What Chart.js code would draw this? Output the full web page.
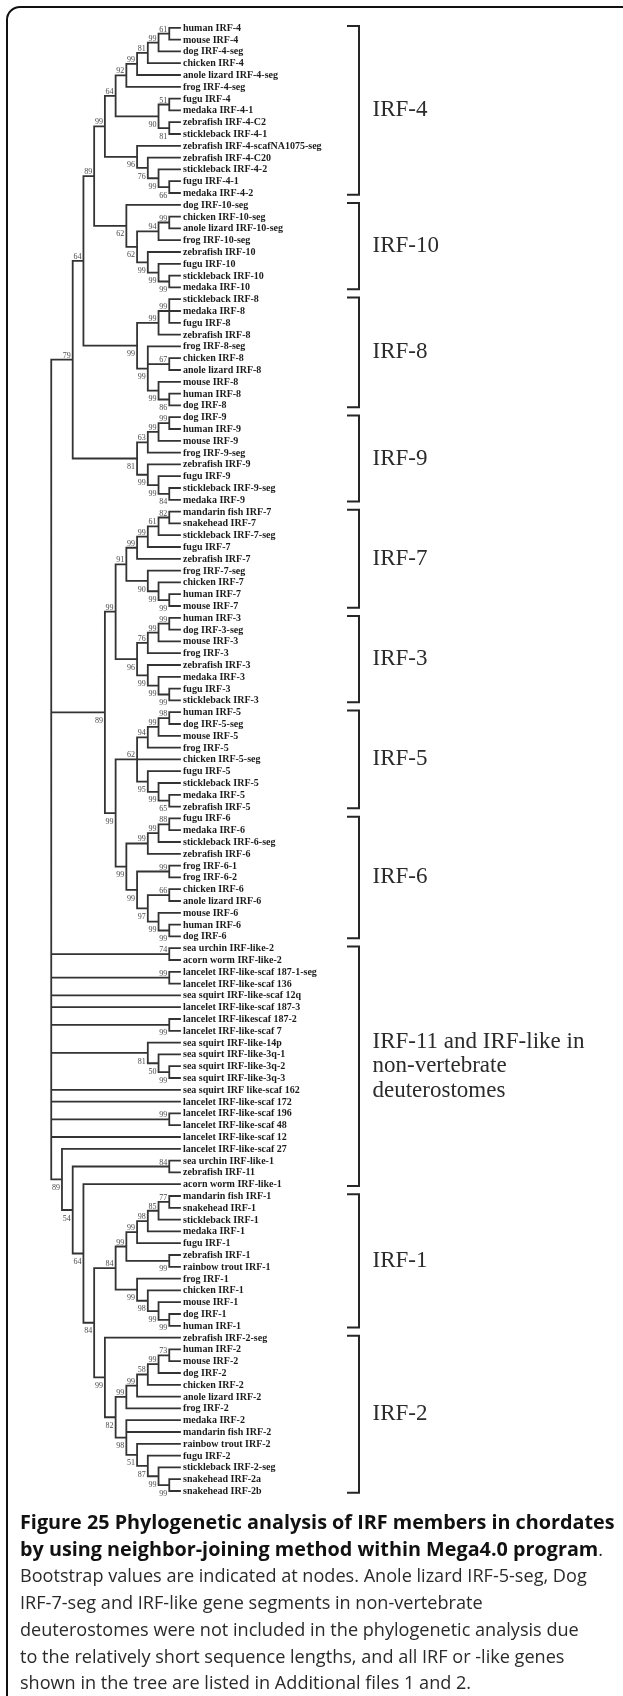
<!DOCTYPE html>
<html>
<head>
<meta charset="utf-8">
<script src="https://cdn.jsdelivr.net/npm/chart.js@4.4.1/dist/chart.umd.min.js"></script>
<style>
  html, body { margin: 0; padding: 0; background: #fff; }
  body { width: 623px; height: 1696px; position: relative; overflow: hidden; }
  #frame { position: absolute; left: 6px; top: 6px; width: 800px; height: 1900px;
           border: 2.5px solid #111; border-radius: 14px; box-sizing: border-box; }
  #tree { position: absolute; left: 0; top: 0; }
  #caption { position: absolute; left: 20px; top: 1509px; font-family: "Open Sans", sans-serif;
             font-size: 18.1px; line-height: 26.7px; color: #2a2a2a; white-space: nowrap; }
  #caption b { color: #111; font-size: 19.8px; }
</style>
</head>
<body>
<div id="frame"></div>
<canvas id="tree" width="623" height="1696"></canvas>
<div id="caption">
  <b>Figure 25 Phylogenetic analysis of IRF members in chordates<br>
  by using neighbor-joining method within Mega4.0 program</b>.<br>
  Bootstrap values are indicated at nodes. Anole lizard IRF-5-seg, Dog<br>
  IRF-7-seg and IRF-like gene segments in non-vertebrate<br>
  deuterostomes were not included in the phylogenetic analysis due<br>
  to the relatively short sequence lengths, and all IRF or -like genes<br>
  shown in the tree are listed in Additional files 1 and 2.
</div>
<script>
// tree topology in newick form, one string per family
// number after ")" = bootstrap value, a trailing "v" means it is printed under the branch
const irf4 = "(((((((human IRF-4,mouse IRF-4)61,dog IRF-4-seg)99,chicken IRF-4)81,anole lizard IRF-4-seg)99,frog IRF-4-seg)92,((fugu IRF-4,medaka IRF-4-1)51,(zebrafish IRF-4-C2,stickleback IRF-4-1)81v)90v)64,(zebrafish IRF-4-scafNA1075-seg,(zebrafish IRF-4-C20,(stickleback IRF-4-2,(fugu IRF-4-1,medaka IRF-4-2)66v)99v)76v)96v)99";
const irf10 = "(dog IRF-10-seg,(((chicken IRF-10-seg,anole lizard IRF-10-seg)99,frog IRF-10-seg)94,(zebrafish IRF-10,(fugu IRF-10,(stickleback IRF-10,medaka IRF-10)99v)99v)99v)62v)62v";
const irf8 = "(((stickleback IRF-8,medaka IRF-8,fugu IRF-8)99,zebrafish IRF-8)99,(frog IRF-8-seg,(chicken IRF-8,anole lizard IRF-8)67,(mouse IRF-8,(human IRF-8,dog IRF-8)86v)99v)99v)99v";
const irf9 = "((((dog IRF-9,human IRF-9)99,mouse IRF-9)99,frog IRF-9-seg)63,(zebrafish IRF-9,(fugu IRF-9,(stickleback IRF-9-seg,medaka IRF-9)84v)99v)99v)81v";
const irf7 = "(((((mandarin fish IRF-7,snakehead IRF-7)82,stickleback IRF-7-seg)61,fugu IRF-7)99,zebrafish IRF-7)99,(frog IRF-7-seg,(chicken IRF-7,(human IRF-7,mouse IRF-7)99v)99v)90v)91";
const irf3 = "((((human IRF-3,dog IRF-3-seg)99,mouse IRF-3)99,frog IRF-3)76,(zebrafish IRF-3,(medaka IRF-3,(fugu IRF-3,stickleback IRF-3)99v)99v)99v)96v";
const irf5 = "((((human IRF-5,dog IRF-5-seg)98,mouse IRF-5)99,frog IRF-5)94,chicken IRF-5-seg,(fugu IRF-5,(stickleback IRF-5,(medaka IRF-5,zebrafish IRF-5)65v)99v)95v)62";
const irf6 = "((((fugu IRF-6,medaka IRF-6)88,stickleback IRF-6-seg)99,zebrafish IRF-6)99,((frog IRF-6-1,frog IRF-6-2)99,((chicken IRF-6,anole lizard IRF-6)66,(mouse IRF-6,(human IRF-6,dog IRF-6)99v)99v)97v)99v)99v";
const irfLike = "(sea urchin IRF-like-2,acorn worm IRF-like-2)74,(lancelet IRF-like-scaf 187-1-seg,lancelet IRF-like-scaf 136)99,sea squirt IRF-like-scaf 12q,lancelet IRF-like-scaf 187-3,(lancelet IRF-likescaf 187-2,lancelet IRF-like-scaf 7)99v,(sea squirt IRF-like-14p,(sea squirt IRF-like-3q-1,(sea squirt IRF-like-3q-2,sea squirt IRF-like-3q-3)99v)50v)81v,sea squirt IRF like-scaf 162,lancelet IRF-like-scaf 172,(lancelet IRF-like-scaf 196,lancelet IRF-like-scaf 48)99,lancelet IRF-like-scaf 12";
const irf1 = "((((((mandarin fish IRF-1,snakehead IRF-1)77,stickleback IRF-1)85,medaka IRF-1)98,fugu IRF-1)99,(zebrafish IRF-1,rainbow trout IRF-1)99v)99,(frog IRF-1,(chicken IRF-1,(mouse IRF-1,(dog IRF-1,human IRF-1)99v)99v)98v)99v)84";
const irf2 = "(zebrafish IRF-2-seg,((((((human IRF-2,mouse IRF-2)73,dog IRF-2)99,chicken IRF-2)58,anole lizard IRF-2)99,frog IRF-2)99,(medaka IRF-2,mandarin fish IRF-2,(rainbow trout IRF-2,(fugu IRF-2,(stickleback IRF-2-seg,(snakehead IRF-2a,snakehead IRF-2b)99v)99v)87v)51v)98v)82v)99v";

const newick = `((((${irf4},${irf10})89,${irf8})64,${irf9})79,((${irf7},${irf3})99,(${irf5},${irf6})99v)89v,${irfLike},(lancelet IRF-like-scaf 27,((sea urchin IRF-like-1,zebrafish IRF-11)84,(acorn worm IRF-like-1,(${irf1},${irf2})84v)64v)54v)89v)`;

// brackets on the right: name lines and number of leaves covered, top to bottom
const cladeNames = [["IRF-4"], ["IRF-10"], ["IRF-8"], ["IRF-9"], ["IRF-7"], ["IRF-3"], ["IRF-5"], ["IRF-6"],
  ["IRF-11 and IRF-like in", "non-vertebrate", "deuterostomes"], ["IRF-1"], ["IRF-2"]];
const cladeSizes = [15, 8, 10, 8, 9, 8, 9, 11, 21, 12, 14];

// layout (pixels)
const W = 623, H = 1696;
const tipPx = 180, depthPx = 10.73;   // x of leaf tips, width of one node level
const topPx = 27.8, rowPx = 11.8;     // y of first leaf, leaf spacing
const bracketPx = 359, tickPx = 11;

// --- parse ---
let pos = 0;
function readNode() {
  if (newick[pos] === "(") {
    pos++;
    const kids = [readNode()];
    while (newick[pos] === ",") { pos++; kids.push(readNode()); }
    pos++; // ")"
    const n = { kids };
    const m = /^(\d+)(v?)/.exec(newick.slice(pos));
    if (m) { n.boot = m[1]; n.below = m[2] === "v"; pos += m[0].length; }
    return n;
  }
  let j = pos;
  while (j < newick.length && newick[j] !== "," && newick[j] !== ")") j++;
  const name = newick.slice(pos, j).trim();
  pos = j;
  return { name };
}
const root = readNode();

// leaves one row each, internal nodes at the middle of first/last child,
// x = number of levels above the deepest tip (MEGA topology view)
const leaves = [], inner = [];
function place(n) {
  if (!n.kids) { n.y = leaves.length; n.h = 0; leaves.push(n); return; }
  n.kids.forEach(place);
  n.h = Math.max(...n.kids.map(k => k.h)) + 1;
  n.y = (n.kids[0].y + n.kids[n.kids.length - 1].y) / 2;
  inner.push(n);
}
place(root);

const gap = { x: null, y: null };
const branchPts = [];
function walk(n, parent) {
  if (parent) branchPts.push({ x: -parent.h, y: n.y }, { x: -n.h, y: n.y }, gap);
  if (n.kids) {
    branchPts.push({ x: -n.h, y: n.kids[0].y }, { x: -n.h, y: n.kids[n.kids.length - 1].y }, gap);
    n.kids.forEach(k => walk(k, n));
  }
}
walk(root, null);

const bx = (bracketPx - tipPx) / depthPx, bt = (bracketPx - tickPx - tipPx) / depthPx;
const bracketPts = [];
const clades = [];
let start = 0;
cladeSizes.forEach((s, i) => {
  const y0 = start - 0.15, y1 = start + s - 1 + 0.15;
  bracketPts.push({ x: bt, y: y0 }, { x: bx, y: y0 }, { x: bx, y: y1 }, { x: bt, y: y1 }, gap);
  clades.push({ lines: cladeNames[i], mid: (y0 + y1) / 2 });
  start += s;
});

const labels = {
  id: "treeLabels",
  afterDatasetsDraw(chart) {
    const { ctx, scales: { x, y } } = chart;
    ctx.save();
    ctx.font = 'bold 10px "Liberation Serif"';
    ctx.fillStyle = "#1b1b1b";
    ctx.textAlign = "left";
    ctx.textBaseline = "middle";
    const lx = x.getPixelForValue(0) + 3;
    leaves.forEach(l => ctx.fillText(l.name, lx, y.getPixelForValue(l.y) + 0.5));

    ctx.font = '8px "Liberation Serif"';
    ctx.fillStyle = "#4a4a4a";
    ctx.textAlign = "right";
    inner.forEach(n => {
      if (!n.boot) return;
      const px = x.getPixelForValue(-n.h) - 2, py = y.getPixelForValue(n.y);
      if (n.below) { ctx.textBaseline = "top"; ctx.fillText(n.boot, px, py + 4.5); }
      else { ctx.textBaseline = "alphabetic"; ctx.fillText(n.boot, px, py - 2); }
    });

    ctx.font = '23px "Liberation Serif"';
    ctx.fillStyle = "#2b2b2b";
    ctx.textAlign = "left";
    ctx.textBaseline = "middle";
    const cx = x.getPixelForValue(bx) + 13.5;
    clades.forEach(c => {
      const y0 = y.getPixelForValue(c.mid) - (c.lines.length - 1) * 24.3 / 2;
      c.lines.forEach((t, k) => ctx.fillText(t, cx, y0 + k * 24.3));
    });
    ctx.restore();
  }
};

new Chart(document.getElementById("tree"), {
  type: "scatter",
  data: {
    datasets: [
      { data: branchPts, showLine: true, spanGaps: false, borderColor: "#333", borderWidth: 1.8,
        borderCapStyle: "square", pointRadius: 0, pointHoverRadius: 0, tension: 0 },
      { data: bracketPts, showLine: true, spanGaps: false, borderColor: "#262626", borderWidth: 2,
        borderCapStyle: "square", pointRadius: 0, pointHoverRadius: 0, tension: 0 }
    ]
  },
  options: {
    responsive: false,
    animation: false,
    events: [],
    layout: { padding: 0 },
    plugins: { legend: { display: false }, tooltip: { enabled: false } },
    scales: {
      x: { type: "linear", display: false, min: -tipPx / depthPx, max: (W - tipPx) / depthPx },
      y: { type: "linear", display: false, reverse: true, min: -topPx / rowPx, max: (H - topPx) / rowPx }
    }
  },
  plugins: [labels]
});
</script>
</body>
</html>
